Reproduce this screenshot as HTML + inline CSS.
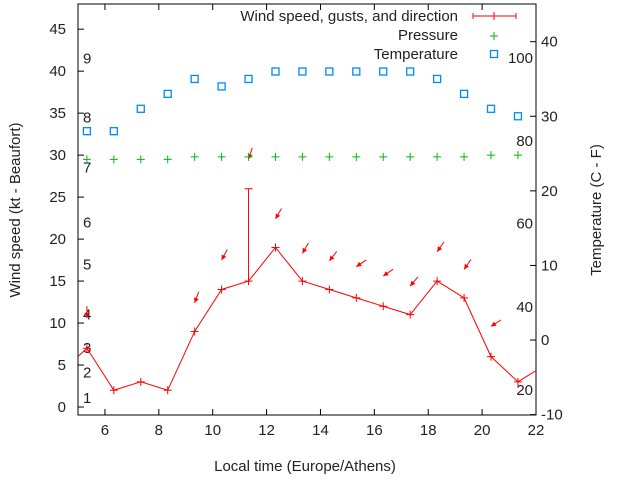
<!DOCTYPE html>
<html><head><meta charset="utf-8"><style>
body{margin:0;background:#fff}
svg text{font-family:"Liberation Sans",sans-serif;font-size:15px;fill:#222}
</style></head><body>
<svg id="c" width="640" height="480" xmlns="http://www.w3.org/2000/svg"></svg>
<script>
const hours=[5.33,6.33,7.33,8.33,9.33,10.33,11.33,12.33,13.33,14.33,15.33,16.33,17.33,18.33,19.33,20.33,21.33];
const windKt=[7,2,3,2,9,14,15,19,15,14,13,12,11,15,13,6,3];
const gustKt=[null,null,null,null,null,null,26,null,null,null,null,null,null,null,null,null,null];
const windPrevHour=4.33, windPrev=4, windNextHour=22.33, windNext=5;
const pressure=[29.5,29.5,29.5,29.5,29.8,29.8,29.8,29.8,29.8,29.8,29.8,29.8,29.8,29.8,29.8,30,30];
const tempC=[28,28,31,33,35,34,35,36,36,36,36,36,36,35,33,31,30];
const arrowHours=[5.33,9.33,10.33,11.33,12.33,13.33,14.33,15.33,16.33,17.33,18.33,19.33,20.33];
const arrowVals=[10.6,12.4,17.5,29.5,22.4,18.3,17.4,16.7,15.6,14.4,18.5,16.4,9.6];
const arrowAngles=[90,70,62,72,60,60,52,35,35,50,55,55,33];
const xTicks=[6,8,10,12,14,16,18,20,22];
const yTicks=[0,5,10,15,20,25,30,35,40,45];
const y2Ticks=[-10,0,10,20,30,40];
const beaufortLabels=["1","2","3","4","5","6","7","8","9"];
const beaufortKt=[1.1,4.1,7,11,17,22,28.5,34.5,41.5];
const fLabels=["20","40","60","80","100"];
const fAsC=[-6.7,4.4,15.6,26.7,37.8];

const L=78,R=536,T=4,B=415;
const X=h=>L+(h-5)*(R-L)/17;
const Y=v=>B-(v+0.95)*(B-T)/48.95;
const Y2=v=>B-(v+10.05)*(B-T)/55.1;
const svg=document.getElementById('c');
const NS='http://www.w3.org/2000/svg';
function mk(t,a,p){const e=document.createElementNS(NS,t);for(const k in a)e.setAttribute(k,a[k]);(p||svg).appendChild(e);return e;}
const defs=mk('defs',{});const cp=mk('clipPath',{id:'clip'},defs);mk('rect',{x:L,y:T,width:R-L,height:B-T},cp);

let fr=mk('rect',{x:L,y:T,width:R-L,height:B-T,fill:'none',stroke:'#000','stroke-width':1});


xTicks.forEach(t=>{const x=X(t);
 mk('line',{x1:x,y1:B,x2:x,y2:B-6,stroke:'#000'});mk('line',{x1:x,y1:T,x2:x,y2:T+6,stroke:'#000'});
 const tx=mk('text',{x:x,y:B+20,'text-anchor':'middle'});tx.textContent=t;
 
 });
yTicks.forEach(t=>{const y=Y(t);
 mk('line',{x1:L,y1:y,x2:L+6,y2:y,stroke:'#000'});
 const tx=mk('text',{x:66,y:y+5,'text-anchor':'end'});tx.textContent=t;
 
 });
y2Ticks.forEach(t=>{const y=Y2(t);
 mk('line',{x1:R,y1:y,x2:R-6,y2:y,stroke:'#000'});
 const tx=mk('text',{x:541,y:y+5});tx.textContent=t;
 
 });
beaufortLabels.forEach((s,i)=>{const tx=mk('text',{x:83,y:Y(beaufortKt[i])+5});tx.textContent=s;
 
 });
fLabels.forEach((s,i)=>{const tx=mk('text',{x:533,y:Y2(fAsC[i])+5,'text-anchor':'end'});tx.textContent=s;
 
 });

let t1=mk('text',{x:305,y:471,'text-anchor':'middle'});t1.textContent='Local time (Europe/Athens)';


let t2=mk('text',{x:20,y:210,'text-anchor':'middle',transform:'rotate(-90 20 210)'});t2.textContent='Wind speed (kt - Beaufort)';


let t3=mk('text',{x:601,y:210,'text-anchor':'middle',transform:'rotate(-90 601 210)'});t3.textContent='Temperature (C - F)';



const g=mk('g',{'clip-path':'url(#clip)'});
function plus(x,y,c,s,p){mk('path',{d:`M${x-s},${y}H${x+s}M${x},${y-s}V${y+s}`,stroke:c,'stroke-width':1,fill:'none'},p);}
let pts=[[X(windPrevHour),Y(windPrev)]].concat(hours.map((h,i)=>[X(h),Y(windKt[i])])).concat([[X(windNextHour),Y(windNext)]]);
let wl=mk('polyline',{points:pts.map(p=>p.join(',')).join(' '),fill:'none',stroke:'#f00','stroke-width':1},g);


hours.forEach((h,i)=>{plus(X(h),Y(windKt[i]),'#f00',4,g);
 if(gustKt[i]!=null){const x=X(h),y=Y(gustKt[i]);
  const e=mk('path',{d:`M${x},${Y(windKt[i])}V${y}M${x-4},${y}H${x+4}`,stroke:'#f00',fill:'none'},g);
  
  }});
arrowHours.forEach((h,i)=>{const x=X(h),y=Y(arrowVals[i]);const a=arrowAngles[i]*Math.PI/180;
 const tx=x+12*Math.cos(a),ty=y-12*Math.sin(a);
 const ux=Math.cos(a),uy=-Math.sin(a);
 const p1x=x+5*ux+2.5*uy,p1y=y+5*uy-2.5*ux,p2x=x+5*ux-2.5*uy,p2y=y+5*uy+2.5*ux;
 const e=mk('g',{},g);
 
 
 mk('line',{x1:tx,y1:ty,x2:x,y2:y,stroke:'#f00'},e);
 mk('polygon',{points:`${x},${y} ${p1x},${p1y} ${p2x},${p2y}`,fill:'#f00'},e);});
hours.forEach((h,i)=>{const e=mk('g',{},g);
 
 
 plus(X(h),Y(pressure[i]),'#0b0',4,e);});
hours.forEach((h,i)=>{const r=mk('rect',{x:X(h)-3.5,y:Y2(tempC[i])-3.5,width:7,height:7,fill:'none',stroke:'#08f','stroke-width':1.3},g);
 
 });
const lg=mk('g',{});


[['Wind speed, gusts, and direction',21],['Pressure',40],['Temperature',59]].forEach((d,i)=>{
 const tx=mk('text',{x:458,y:d[1],'text-anchor':'end'},lg);tx.textContent=d[0];
 
 });
mk('path',{d:'M473,16H516M473,13V19M516,13V19',stroke:'#f00',fill:'none'},lg);plus(494,16,'#f00',4,lg);
plus(494,36,'#0b0',4,lg);
mk('rect',{x:490.5,y:50.5,width:7,height:7,fill:'none',stroke:'#08f','stroke-width':1.3},lg);
</script>
</body></html>
